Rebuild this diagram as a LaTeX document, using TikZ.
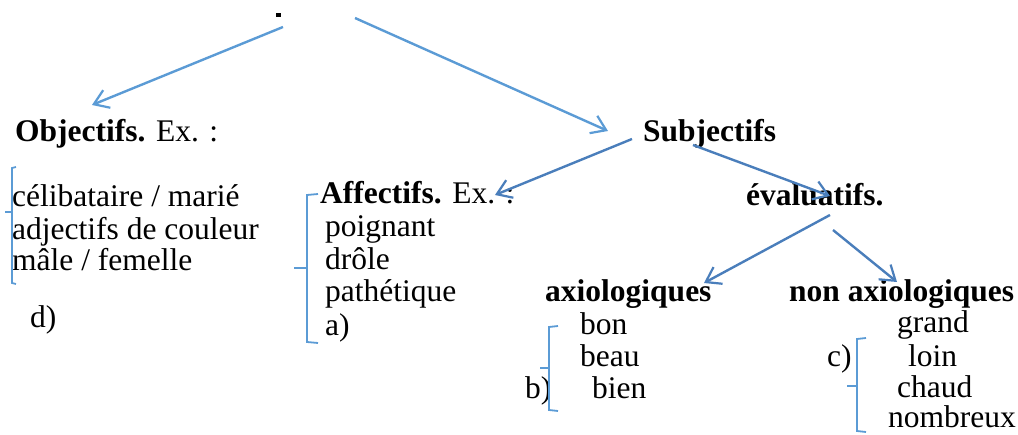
\documentclass[tikz,border=0pt]{standalone}
\usepackage{fontspec}
\setmainfont{Liberation Serif}
\usetikzlibrary{arrows.meta}
\definecolor{arrowblue}{HTML}{5B9BD5}
\definecolor{arrowblueb}{HTML}{4A7EBB}
\begin{document}
\begin{tikzpicture}[x=1pt,y=-1pt,
  txt/.style={anchor=base west, inner sep=0pt, font=\fontsize{31.5}{34}\selectfont},
  bold/.style={txt, font=\fontsize{31.5}{34}\selectfont\bfseries},
  conn/.style={draw=arrowblue, line width=2.4pt, -{Straight Barb[length=14pt,width=19pt,line width=2.2pt]}},
  connb/.style={conn, draw=arrowblueb},
  brk/.style={draw=arrowblue, line width=1.8pt}]
\useasboundingbox (0,0) rectangle (1018,435);

% tiny mark at the top
\fill[black] (275.5,13.5) rectangle (281,17);

% text nodes
\node[txt] (obj) at (15,142) {\textbf{Objectifs.} Ex. :};
\node[txt] (cel) at (12,207) {célibataire / marié};
\node[txt] (adj) at (12,240) {adjectifs de couleur};
\node[txt] (male) at (12,271) {mâle / femelle};
\node[txt] (d) at (30,328) {d)};

\node[txt] (aff) at (320,204) {\textbf{Affectifs.} Ex. :};
\node[txt] (poi) at (325,237) {poignant};
\node[txt] (dro) at (325,270) {drôle};
\node[txt] (pat) at (325,302) {pathétique};
\node[txt] (a) at (325,336) {a)};

\node[bold] (subj) at (643,142) {Subjectifs};
\node[bold] (eval) at (746,206) {évaluatifs.};
\node[bold] (axio) at (545,302) {axiologiques};
\node[bold] (nonaxio) at (789,302) {non axiologiques};

\node[txt] (bon) at (580,335) {bon};
\node[txt] (beau) at (580,367) {beau};
\node[txt] (bien) at (592,399) {bien};
\node[txt] (b) at (525,399) {b)};

\node[txt] (grand) at (897,333) {grand};
\node[txt] (loin) at (908,367) {loin};
\node[txt] (chaud) at (897,398) {chaud};
\node[txt] (nomb) at (888,428) {nombreux};
\node[txt] (c) at (827,367) {c)};

% connector end points
\coordinate (rootL) at (283,27);
\coordinate (rootR) at (355,18);
\coordinate (objT) at (92,105);
\coordinate (subjT) at (608,131);
\coordinate (subjL) at (632,139);
\coordinate (subjR) at (693,145);
\coordinate (affT) at (495,195);
\coordinate (evalT) at (830,196);
\coordinate (evalL) at (830,215);
\coordinate (evalR) at (833,230);
\coordinate (axioT) at (704,283);
\coordinate (nonT) at (897,282);

\draw[conn] (rootL) -- (objT);
\draw[conn] (rootR) -- (subjT);
\draw[connb] (subjL) -- (affT);
\draw[connb] (subjR) -- (evalT);
\draw[connb] (evalL) -- (axioT);
\draw[connb] (evalR) -- (nonT);

% brackets
\draw[brk] (16,167) -- (12,168) -- (12,283) -- (16,284);
\draw[brk] (12,212) -- (5,212);

\draw[brk] (318,194) -- (307,195) -- (307,342) -- (318,343);
\draw[brk] (307,268) -- (294,268);

\draw[brk] (558,326) -- (549,327) -- (549,410) -- (558,411);
\draw[brk] (549,368) -- (540,368);

\draw[brk] (866,338) -- (857,339) -- (857,431) -- (866,432);
\draw[brk] (857,386) -- (847,386);
\end{tikzpicture}
\end{document}
